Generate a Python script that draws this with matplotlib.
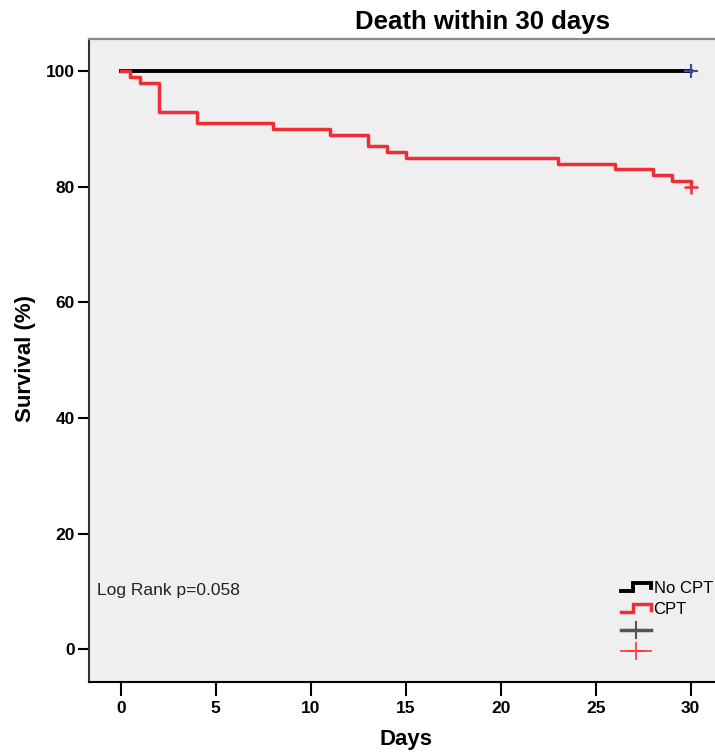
import numpy as np
import matplotlib
matplotlib.use("Agg")
import matplotlib.pyplot as plt
from matplotlib.lines import Line2D
from matplotlib.legend_handler import HandlerBase

plt.rcParams['font.family'] = ['Liberation Sans', 'DejaVu Sans']

# Kaplan-Meier steps
no_cpt_days = [0, 30]
no_cpt_surv = [100, 100]
cpt_days = [0, 0.5, 1, 2, 4, 8, 11, 13, 14, 15, 23, 26, 28, 29, 30]
cpt_surv = [100, 99, 98, 93, 91, 90, 89, 87, 86, 85, 84, 83, 82, 81, 80]
# censored points
no_cpt_cens_day, no_cpt_cens_surv = [30], [100]
cpt_cens_day, cpt_cens_surv = [30], [80]

x_ticks = [0, 5, 10, 15, 20, 25, 30]
y_ticks = [0, 20, 40, 60, 80, 100]

red = '#ee2e36'
W, H = 715, 755


class StepHandler(HandlerBase):
    # little step glyph like the SPSS legend
    def create_artists(self, legend, orig_handle, xdescent, ydescent,
                       width, height, fontsize, trans):
        xs = np.array([0, 0.4, 0.4, 1.0, 1.0]) * width - xdescent
        ys = np.array([0.2, 0.2, 0.85, 0.85, 0.4]) * height - ydescent
        ln = Line2D(xs, ys, color=orig_handle.get_color(),
                    lw=orig_handle.get_linewidth(), solid_joinstyle='miter')
        ln.set_transform(trans)
        return [ln]


fig = plt.figure(figsize=(W / 100, H / 100), dpi=100)
ax = fig.add_axes([89 / W, 1 - 681.7 / H, 1 - 89 / W, (681.7 - 38.7) / H])
ax.set_facecolor('#efefef')

l_no, = ax.step(no_cpt_days, no_cpt_surv, where='post', color='black', lw=2.8)
l_cpt, = ax.step(cpt_days, cpt_surv, where='post', color=red, lw=2.5)
ax.plot(no_cpt_cens_day, no_cpt_cens_surv, ls='none', marker='+', ms=10,
        mew=1.6, color='#3b4fa8')
ax.plot(cpt_cens_day, cpt_cens_surv, ls='none', marker='+', ms=10,
        mew=1.8, color=red)

ax.set_xlim(-1.67, 31.28)
ax.set_ylim(-5.57, 105.6)
ax.set_xticks(x_ticks)
ax.set_yticks(y_ticks)
ax.tick_params(axis='x', length=10, width=1.5, pad=4, labelsize=12.5)
ax.tick_params(axis='y', length=8, width=1.5, pad=2, labelsize=12.5)
for lab in ax.get_xticklabels() + ax.get_yticklabels():
    lab.set_fontweight('bold')

ax.spines['right'].set_visible(False)
ax.spines['top'].set_color('#8a8a8a')
ax.spines['top'].set_linewidth(1.6)
ax.spines['left'].set_color('#333333')
ax.spines['left'].set_linewidth(1.5)
ax.spines['bottom'].set_color('black')
ax.spines['bottom'].set_linewidth(1.5)

fig.text(483 / W, 1 - 22 / H, 'Death within 30 days', ha='center',
         va='center', fontsize=18.5, fontweight='bold')
fig.text(26 / W, 1 - 358 / H, 'Survival (%)', ha='center', va='center',
         rotation=90, fontsize=16, fontweight='bold')
fig.text(406 / W, 1 - 740 / H, 'Days', ha='center', va='center',
         fontsize=16, fontweight='bold')
fig.text(97 / W, 1 - 590 / H, 'Log Rank p=0.058', ha='left', va='center',
         fontsize=12.5, color='#222222')

h_gray = Line2D([], [], color='#555555', lw=2.5, marker='+', ms=13, mew=1.5)
h_red = Line2D([], [], color='#ff3333', lw=1.2, marker='+', ms=13, mew=1.2)
leg = fig.legend([l_no, l_cpt, h_gray, h_red], ['No CPT', 'CPT', '', ''],
                 handler_map={l_no: StepHandler(), l_cpt: StepHandler()},
                 loc='upper left', bbox_to_anchor=(621 / W, 1 - 581 / H),
                 bbox_transform=fig.transFigure, frameon=False, fontsize=12,
                 handlelength=1.8, handletextpad=0.15, labelspacing=0.38,
                 borderpad=0, borderaxespad=0, numpoints=1)

fig.savefig('out.png', dpi=100)
